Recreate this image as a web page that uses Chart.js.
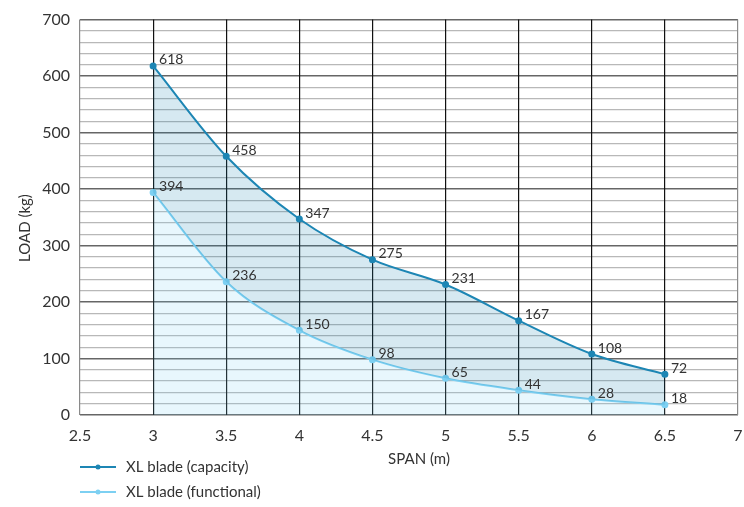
<!DOCTYPE html>
<html>
<head>
<meta charset="utf-8">
<script src="https://cdn.jsdelivr.net/npm/chart.js@4.4.1/dist/chart.umd.min.js"></script>
<style>
  html, body { margin: 0; padding: 0; background: #fff; }
  canvas { display: block; }
</style>
</head>
<body>
<canvas id="loadChart" width="744" height="507"></canvas>
<script>
// Data
const spans = [3, 3.5, 4, 4.5, 5, 5.5, 6, 6.5];
const capacity = [618, 458, 347, 275, 231, 167, 108, 72];
const functional = [394, 236, 150, 98, 65, 44, 28, 18];
const seriesNames = ['XL blade (capacity)', 'XL blade (functional)'];
const xTitle = 'SPAN (m)';
const yTitle = 'LOAD (kg)';

const FONT = 'Lato, "Open Sans", sans-serif';
const TEXT = '#333';
const capColor = '#1d86b4';
const funColor = '#7dd0f2';

// value labels next to each point
const valueLabels = {
  id: 'valueLabels',
  afterDatasetsDraw(chart) {
    const ctx = chart.ctx;
    ctx.save();
    ctx.font = '14px ' + FONT;
    ctx.fillStyle = TEXT;
    ctx.textAlign = 'left';
    ctx.textBaseline = 'middle';
    chart.data.datasets.forEach((ds, i) => {
      chart.getDatasetMeta(i).data.forEach((pt, j) => {
        ctx.fillText(ds.data[j].y, pt.x + 6, pt.y - 6);
      });
    });
    ctx.restore();
  }
};

// axis titles + legend under the x axis, left aligned to the plot
const annotations = {
  id: 'annotations',
  afterDraw(chart) {
    const ctx = chart.ctx;
    const area = chart.chartArea;
    const x0 = area.left;
    const colors = [capColor, funColor];
    ctx.save();
    ctx.fillStyle = TEXT;
    ctx.font = '15px ' + FONT;
    ctx.textAlign = 'center';
    ctx.textBaseline = 'middle';
    ctx.fillText(xTitle, 419, 459);
    ctx.save();
    ctx.translate(25, 228);
    ctx.rotate(-Math.PI / 2);
    ctx.fillText(yTitle, 0, 0);
    ctx.restore();

    ctx.textAlign = 'left';
    seriesNames.forEach((name, i) => {
      const y = 467 + i * 25;
      ctx.strokeStyle = colors[i];
      ctx.lineWidth = 2;
      ctx.beginPath();
      ctx.moveTo(x0, y);
      ctx.lineTo(x0 + 36, y);
      ctx.stroke();
      ctx.fillStyle = colors[i];
      ctx.beginPath();
      ctx.arc(x0 + 18, y, 2.5, 0, Math.PI * 2);
      ctx.fill();
      ctx.fillStyle = TEXT;
      ctx.fillText(name, x0 + 46, y);
    });
    ctx.restore();
  }
};

const ctx = document.getElementById('loadChart').getContext('2d');
new Chart(ctx, {
  type: 'line',
  data: {
    datasets: [
      {
        label: seriesNames[0],
        data: spans.map((s, i) => ({ x: s, y: capacity[i] })),
        borderColor: capColor,
        backgroundColor: 'rgba(29,134,180,0.18)',
        pointBackgroundColor: capColor,
        pointBorderColor: capColor,
        pointRadius: 2.5,
        borderWidth: 2,
        cubicInterpolationMode: 'monotone',
        fill: '+1'
      },
      {
        label: seriesNames[1],
        data: spans.map((s, i) => ({ x: s, y: functional[i] })),
        borderColor: funColor,
        backgroundColor: 'rgba(125,208,242,0.18)',
        pointBackgroundColor: funColor,
        pointBorderColor: funColor,
        pointRadius: 2.5,
        borderWidth: 2,
        cubicInterpolationMode: 'monotone',
        fill: 'origin'
      }
    ]
  },
  options: {
    responsive: false,
    animation: false,
    layout: { padding: { left: 0, right: 6, top: 16, bottom: 40 } },
    plugins: {
      legend: { display: false },
      tooltip: { enabled: false }
    },
    scales: {
      x: {
        type: 'linear',
        min: 2.5,
        max: 7,
        border: { display: false },
        grid: {
          z: 0,
          drawTicks: false,
          lineWidth: 1.2,
          color: c => (c.tick.value === 2.5 || c.tick.value === 7) ? '#8a8a8a' : '#111'
        },
        ticks: {
          stepSize: 0.5,
          padding: 11,
          color: TEXT,
          font: { family: FONT, size: 16 },
          callback: v => String(v)
        },
        afterFit: s => { s.height = 52; s.paddingLeft = 0; s.paddingRight = 0; }
      },
      y: {
        min: 0,
        max: 700,
        border: { display: false },
        grid: {
          z: -1,
          drawTicks: false,
          lineWidth: c => c.tick.value % 100 === 0 ? 1.4 : 1.3,
          color: c => c.tick.value % 100 === 0 ? '#666' : '#b8b8b8'
        },
        ticks: {
          stepSize: 20,
          autoSkip: false,
          padding: 10,
          color: TEXT,
          font: { family: FONT, size: 16 },
          callback: v => v % 100 === 0 ? v : ''
        },
        afterFit: s => { s.width = 80; }
      }
    }
  },
  plugins: [valueLabels, annotations]
});
</script>
</body>
</html>
